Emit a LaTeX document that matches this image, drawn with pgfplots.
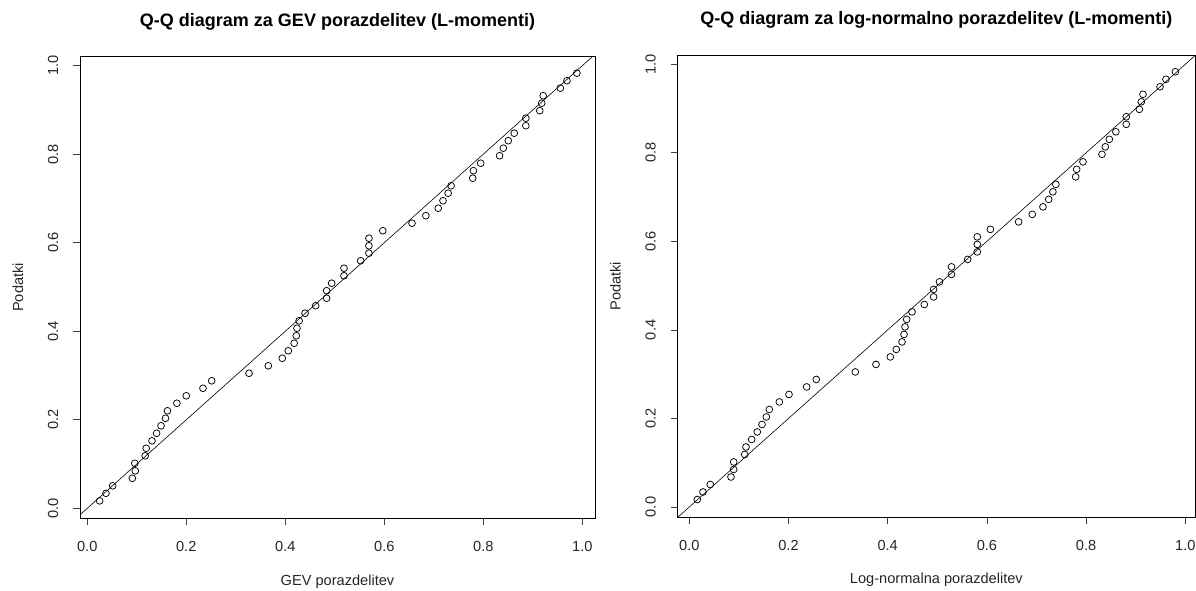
\documentclass[border=0pt]{standalone}
\usepackage{pgfplots}
\usepackage{pgfplotstable}
\pgfplotsset{compat=1.18}
\usepackage{fontspec}
\setmainfont{Liberation Sans}

\pgfplotstableread{
y xgev xln
0.0169 0.0250 0.0161
0.0339 0.0378 0.0276
0.0508 0.0513 0.0423
0.0678 0.0910 0.0840
0.0847 0.0970 0.0895
0.1017 0.0960 0.0895
0.1186 0.1170 0.1117
0.1356 0.1190 0.1143
0.1525 0.1307 0.1257
0.1695 0.1400 0.1370
0.1864 0.1490 0.1466
0.2034 0.1580 0.1553
0.2203 0.1620 0.1613
0.2373 0.1810 0.1815
0.2542 0.2000 0.2010
0.2712 0.2337 0.2366
0.2881 0.2513 0.2560
0.3051 0.3267 0.3347
0.3220 0.3657 0.3764
0.3390 0.3940 0.4053
0.3559 0.4060 0.4173
0.3729 0.4180 0.4288
0.3898 0.4222 0.4329
0.4068 0.4236 0.4349
0.4237 0.4280 0.4383
0.4407 0.4400 0.4490
0.4576 0.4614 0.4738
0.4746 0.4836 0.4925
0.4915 0.4836 0.4925
0.5085 0.4937 0.5044
0.5254 0.5186 0.5286
0.5424 0.5186 0.5286
0.5593 0.5523 0.5613
0.5763 0.5690 0.5806
0.5932 0.5690 0.5806
0.6102 0.5690 0.5806
0.6271 0.5970 0.6070
0.6441 0.6560 0.6640
0.6610 0.6840 0.6915
0.6780 0.7090 0.7130
0.6949 0.7186 0.7246
0.7119 0.7290 0.7330
0.7288 0.7350 0.7390
0.7458 0.7786 0.7790
0.7627 0.7800 0.7810
0.7797 0.7947 0.7937
0.7966 0.8330 0.8320
0.8136 0.8406 0.8387
0.8305 0.8505 0.8468
0.8475 0.8626 0.8600
0.8644 0.8860 0.8810
0.8814 0.8860 0.8810
0.8983 0.9140 0.9073
0.9153 0.9180 0.9113
0.9322 0.9210 0.9147
0.9492 0.9556 0.9490
0.9661 0.9690 0.9610
0.9831 0.9890 0.9800
}\qqdata

\pgfplotsset{
  rqq/.style={
    scale only axis,
    anchor=south west,
    axis line style={black, line width=0.8pt},
    xtick={0,0.2,0.4,0.6,0.8,1.0},
    ytick={0,0.2,0.4,0.6,0.8,1.0},
    xtick pos=bottom, ytick pos=left,
    tick align=outside,
    major tick length=7pt,
    tick style={black!75, line width=0.8pt},
    /pgf/number format/assume math mode=true,
    /pgf/number format/fixed,
    /pgf/number format/fixed zerofill,
    /pgf/number format/precision=1,
    ticklabel style={font=\fontsize{14.6pt}{16pt}\selectfont, text=black!85},
    xticklabel style={anchor=center, yshift=-21pt},
    yticklabel style={xshift=-20pt, rotate=90, anchor=center},
    label style={font=\fontsize{14.6pt}{16pt}\selectfont, text=black!85},
    title style={font=\fontsize{18pt}{20pt}\selectfont\bfseries, anchor=center},
    ylabel={Podatki},
    clip=true,
  }
}

\begin{document}
\begin{tikzpicture}
\path[use as bounding box] (0,0) rectangle (1196pt,590pt);
\begin{axis}[rqq,
  at={(80pt,71.7pt)}, width=515pt, height=461.6pt,
  xmin=-0.0147, xmax=1.0257, ymin=-0.0226, ymax=1.0203,
  title={Q-Q diagram za GEV porazdelitev (L-momenti)},
  title style={at={(axis description cs:0.5,1.0628)}},
  xlabel={GEV porazdelitev},
  xlabel style={at={(axis description cs:0.5,-0.1373)}, anchor=center},
  ylabel style={at={(axis description cs:-0.1204,0.5)}, anchor=center},
]
\addplot[black, line width=0.6pt] coordinates {(-0.1,-0.1) (1.1,1.1)};
\addplot[only marks, mark=o, mark size=3.4pt, mark options={line width=0.75pt, black}] table[x=xgev, y=y] {\qqdata};
\end{axis}
\begin{axis}[rqq,
  at={(677.5pt,72.7pt)}, width=517.8pt, height=462.3pt,
  xmin=-0.0238, xmax=1.0202, ymin=-0.0233, ymax=1.021,
  title={Q-Q diagram za log-normalno porazdelitev (L-momenti)},
  title style={at={(axis description cs:0.5,1.0627)}},
  xlabel={Log-normalna porazdelitev},
  xlabel style={at={(axis description cs:0.5,-0.1350)}, anchor=center},
  ylabel style={at={(axis description cs:-0.1197,0.5)}, anchor=center},
]
\addplot[black, line width=0.6pt] coordinates {(-0.1,-0.1) (1.1,1.1)};
\addplot[only marks, mark=o, mark size=3.4pt, mark options={line width=0.75pt, black}] table[x=xln, y=y] {\qqdata};
\end{axis}
\end{tikzpicture}
\end{document}
